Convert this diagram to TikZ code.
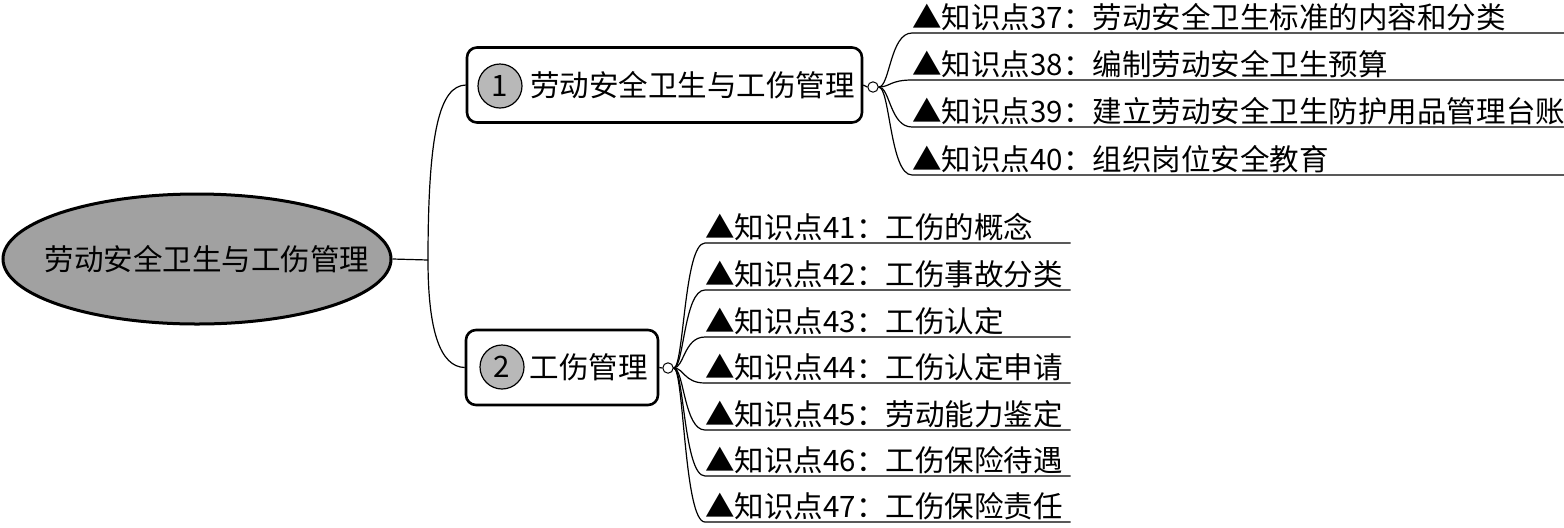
\documentclass[tikz,border=0pt]{standalone}
\usepackage{fontspec}
\setmainfont{Noto Sans CJK SC}
\usetikzlibrary{shapes.geometric}
\definecolor{rootgray}{gray}{0.63}
\definecolor{numgray}{gray}{0.72}
\begin{document}
\begin{tikzpicture}[x=0.25mm, y=-0.25mm,
    every node/.style={font=\fontsize{21}{25}\selectfont},
    root/.style={draw, ellipse, line width=0.75mm, fill=rootgray, minimum width=97mm, minimum height=32.5mm, inner xsep=0pt},
    topic/.style={draw, rectangle, rounded corners=2.5mm, line width=0.65mm, minimum height=18.75mm, align=right},
    num/.style={draw, circle, line width=0.3mm, fill=numgray, minimum size=11mm, inner sep=0pt},
    knob/.style={draw, circle, line width=0.25mm, minimum size=2.6mm, inner sep=0pt},
    leaf/.style={anchor=south west, inner xsep=0pt, inner ysep=1pt, align=left},
    link/.style={line width=0.3mm}]
    \useasboundingbox (0,0) rectangle (1564,527);
    % centre
    \node[root] (root) at (197,259) {\makebox[0pt]{\hspace{5mm}劳动安全卫生与工伤管理}};
    \coordinate (fork) at (428,260);
    % first level
    \node[topic, text width=95.25mm, inner xsep=1.75mm] (t1) at (664.5,85) {劳动安全卫生与工伤管理};
    \node[topic, text width=43mm, inner xsep=2.5mm] (t2) at (562,367.5) {工伤管理};
    \node[num] (n1) at (500,86) {1};
    \node[num] (n2) at (502,367) {2};
    \node[knob] (o1) at (873,87) {};
    \node[knob] (o2) at (668,368) {};
    \coordinate (s1) at (890,87);
    \coordinate (s2) at (684,368);
    \draw[link] (root.east) -- (fork);
    \draw[link] (fork) .. controls (428,130) and (440,86) .. (t1.west);
    \draw[link] (fork) .. controls (428,330) and (440,367) .. (t2.west);
    \draw[link] (t1.east) -- (o1.west);
    \draw[link] (t2.east) -- (o2.west);
    % knowledge points, group 1
    \node[leaf, text width=163mm] (k37) at (912,33) {▲知识点37：劳动安全卫生标准的内容和分类};
    \node[leaf, text width=163mm] (k38) at (912,80) {▲知识点38：编制劳动安全卫生预算};
    \node[leaf, text width=163mm] (k39) at (912,127) {▲知识点39：建立劳动安全卫生防护用品管理台账};
    \node[leaf, text width=163mm] (k40) at (912,175) {▲知识点40：组织岗位安全教育};
    \foreach \k in {37,38,39,40}
        \draw[link] (o1.east) .. controls (s1) and (s1 |- k\k.south west) .. (k\k.south west) -- (k\k.south east);
    % knowledge points, group 2
    \node[leaf, text width=91.25mm] (k41) at (705,243) {▲知识点41：工伤的概念};
    \node[leaf, text width=91.25mm] (k42) at (705,290) {▲知识点42：工伤事故分类};
    \node[leaf, text width=91.25mm] (k43) at (705,337) {▲知识点43：工伤认定};
    \node[leaf, text width=91.25mm] (k44) at (705,383) {▲知识点44：工伤认定申请};
    \node[leaf, text width=91.25mm] (k45) at (705,430) {▲知识点45：劳动能力鉴定};
    \node[leaf, text width=91.25mm] (k46) at (705,476) {▲知识点46：工伤保险待遇};
    \node[leaf, text width=91.25mm] (k47) at (705,522) {▲知识点47：工伤保险责任};
    \foreach \k in {41,...,47}
        \draw[link] (o2.east) .. controls (s2) and (s2 |- k\k.south west) .. (k\k.south west) -- (k\k.south east);
\end{tikzpicture}
\end{document}
